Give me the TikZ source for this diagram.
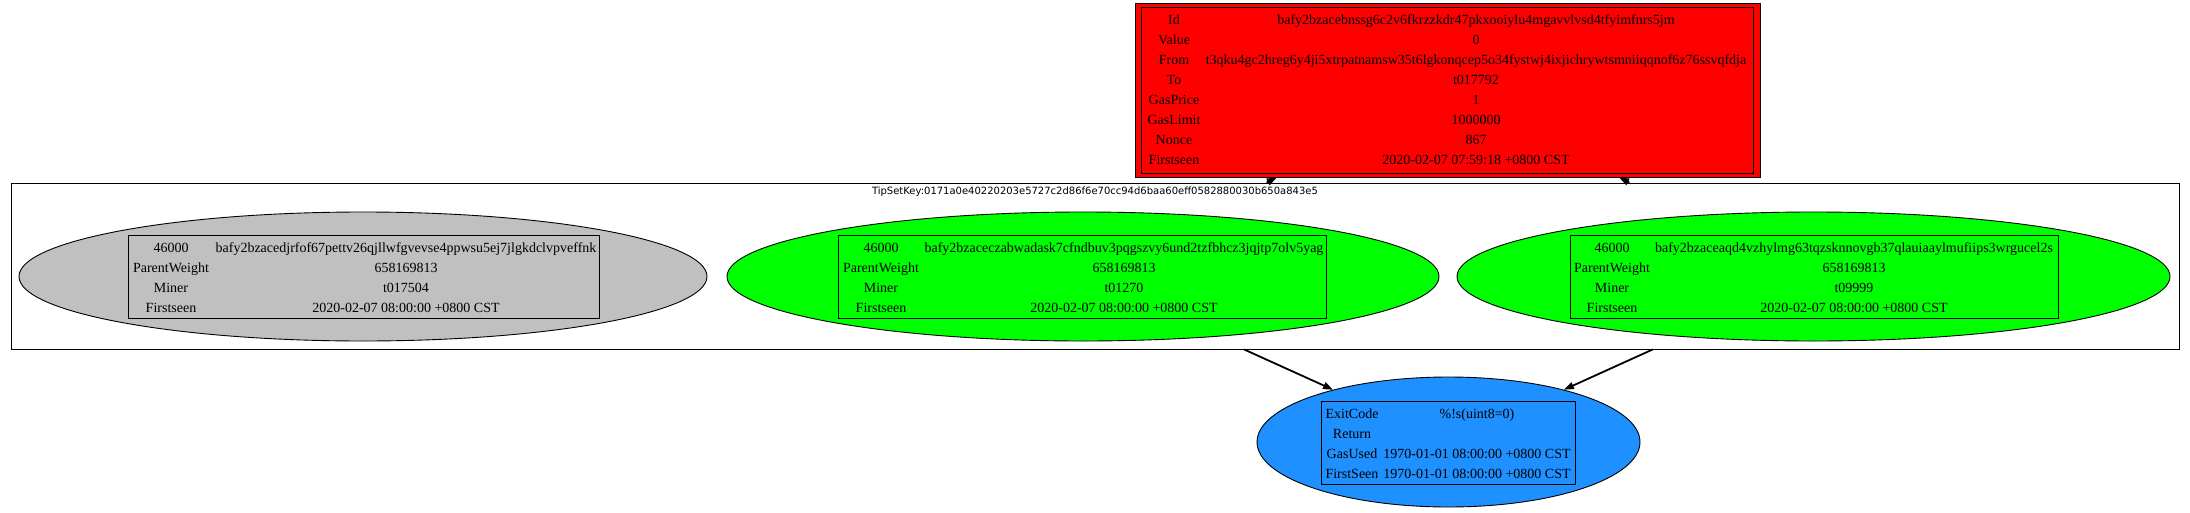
\documentclass[tikz,border=0pt]{standalone}
\usepackage{fontspec}
\setmainfont{Liberation Serif}
\newfontfamily\clusterfont{DejaVu Sans}
\usetikzlibrary{shapes.geometric,arrows.meta,calc}
\definecolor{boxred}{HTML}{FF0000}
\definecolor{blockgray}{HTML}{C0C0C0}
\definecolor{blockgreen}{HTML}{00FF00}
\definecolor{dodger}{HTML}{1E90FF}
\tikzset{
  cell/.style={inner sep=0pt, anchor=base, font=\fontsize{14}{16}\selectfont},
  tablebox/.style={draw=black, line width=0.9pt, rectangle, inner sep=0pt},
  blob/.style={ellipse, draw=black, line width=0.9pt, inner sep=0pt},
  msgbox/.style={rectangle, draw=black, line width=0.9pt, inner sep=0pt, fill=boxred},
  cluster/.style={rectangle, draw=black, line width=0.8pt, inner sep=0pt},
  edge/.style={line width=1.8pt, -{Triangle[length=10pt,width=7pt]}},
}
\begin{document}
\begin{tikzpicture}[x=1pt,y=-1pt]
\useasboundingbox (0,0) rectangle (2190,512);
% message box
\node[msgbox, minimum width=625pt, minimum height=174pt] (red) at (1447.5,90) {};
\node[tablebox, minimum width=612pt, minimum height=166pt] (redtab) at (1447.5,90.5) {};
\foreach \lab/\val [count=\i from 0] in {Id/bafy2bzacebnssg6c2v6fkrzzkdr47pkxooiylu4mgavvlvsd4tfyimfnrs5jm, Value/0, From/t3qku4gc2hreg6y4ji5xtrpatnamsw35t6lgkonqcep5o34fystwj4ixjichrywtsmniiqqnof6z76ssvqfdja, To/t017792, GasPrice/1, GasLimit/1000000, Nonce/867, Firstseen/2020-02-07 07:59:18 +0800 CST} {
  \node[cell] (red-l\i) at (1174,{24.2+20*\i}) {\lab};
  \node[cell] (red-v\i) at (1476,{24.2+20*\i}) {\val};
}
% cluster
\node[cluster, minimum width=2168pt, minimum height=166pt] (tipset) at (1095,266) {};
\node[inner sep=0pt, anchor=base, font=\clusterfont\fontsize{10}{12}\selectfont] (tipsetlabel) at (1095,194.6) {TipSetKey:0171a0e40220203e5727c2d86f6e70cc94d6baa60eff0582880030b650a843e5};
% gray block
\node[blob, fill=blockgray, minimum width=688pt, minimum height=129pt] (g0) at (363,276.5) {};
\node[tablebox, minimum width=471pt, minimum height=83.5pt] (g0tab) at (363.5,276.75) {};
\foreach \lab/\val [count=\i from 0] in {46000/bafy2bzacedjrfof67pettv26qjllwfgvevse4ppwsu5ej7jlgkdclvpveffnk, ParentWeight/658169813, Miner/t017504, Firstseen/2020-02-07 08:00:00 +0800 CST} {
  \node[cell] (g0-l\i) at (171,{252.2+20*\i}) {\lab};
  \node[cell] (g0-v\i) at (406,{252.2+20*\i}) {\val};
}
% green block 1
\node[blob, fill=blockgreen, minimum width=712pt, minimum height=129pt] (g1) at (1083,276.5) {};
\node[tablebox, minimum width=488pt, minimum height=83.5pt] (g1tab) at (1082,276.75) {};
\foreach \lab/\val [count=\i from 0] in {46000/bafy2bzaceczabwadask7cfndbuv3pqgszvy6und2tzfbhcz3jqjtp7olv5yag, ParentWeight/658169813, Miner/t01270, Firstseen/2020-02-07 08:00:00 +0800 CST} {
  \node[cell] (g1-l\i) at (881,{252.2+20*\i}) {\lab};
  \node[cell] (g1-v\i) at (1124,{252.2+20*\i}) {\val};
}
% green block 2
\node[blob, fill=blockgreen, minimum width=713pt, minimum height=129pt] (g2) at (1813.5,276.5) {};
\node[tablebox, minimum width=488pt, minimum height=83.5pt] (g2tab) at (1814,276.75) {};
\foreach \lab/\val [count=\i from 0] in {46000/bafy2bzaceaqd4vzhylmg63tqzsknnovgb37qlauiaaylmufiips3wrgucel2s, ParentWeight/658169813, Miner/t09999, Firstseen/2020-02-07 08:00:00 +0800 CST} {
  \node[cell] (g2-l\i) at (1612,{252.2+20*\i}) {\lab};
  \node[cell] (g2-v\i) at (1854,{252.2+20*\i}) {\val};
}
% receipt
\node[blob, fill=dodger, minimum width=383pt, minimum height=130pt] (blue) at (1448.5,442) {};
\node[tablebox, minimum width=254pt, minimum height=83.5pt] (bluetab) at (1448,442.75) {};
\node[cell] (b-l0) at (1352,418.2) {ExitCode};
\node[cell] (b-v0) at (1477,418.2) {\%!s(uint8=0)};
\node[cell] (b-l1) at (1352,438.2) {Return};
\node[cell] (b-l2) at (1352,458.2) {GasUsed};
\node[cell] (b-v2) at (1477,458.2) {1970-01-01 08:00:00 +0800 CST};
\node[cell] (b-l3) at (1352,478.2) {FirstSeen};
\node[cell] (b-v3) at (1477,478.2) {1970-01-01 08:00:00 +0800 CST};
% edges (clipped at the cluster border)
\coordinate (c1) at (intersection of g1.center--red.center and tipset.north west--tipset.north east);
\coordinate (c2) at (intersection of g2.center--red.center and tipset.north west--tipset.north east);
\coordinate (c3) at (intersection of g1.center--blue.center and tipset.south west--tipset.south east);
\coordinate (c4) at (intersection of g2.center--blue.center and tipset.south west--tipset.south east);
\draw[edge] (c1) -- (red);
\draw[edge] (c2) -- (red);
\draw[edge] (c3) -- (blue);
\draw[edge] (c4) -- (blue);
\end{tikzpicture}
\end{document}
